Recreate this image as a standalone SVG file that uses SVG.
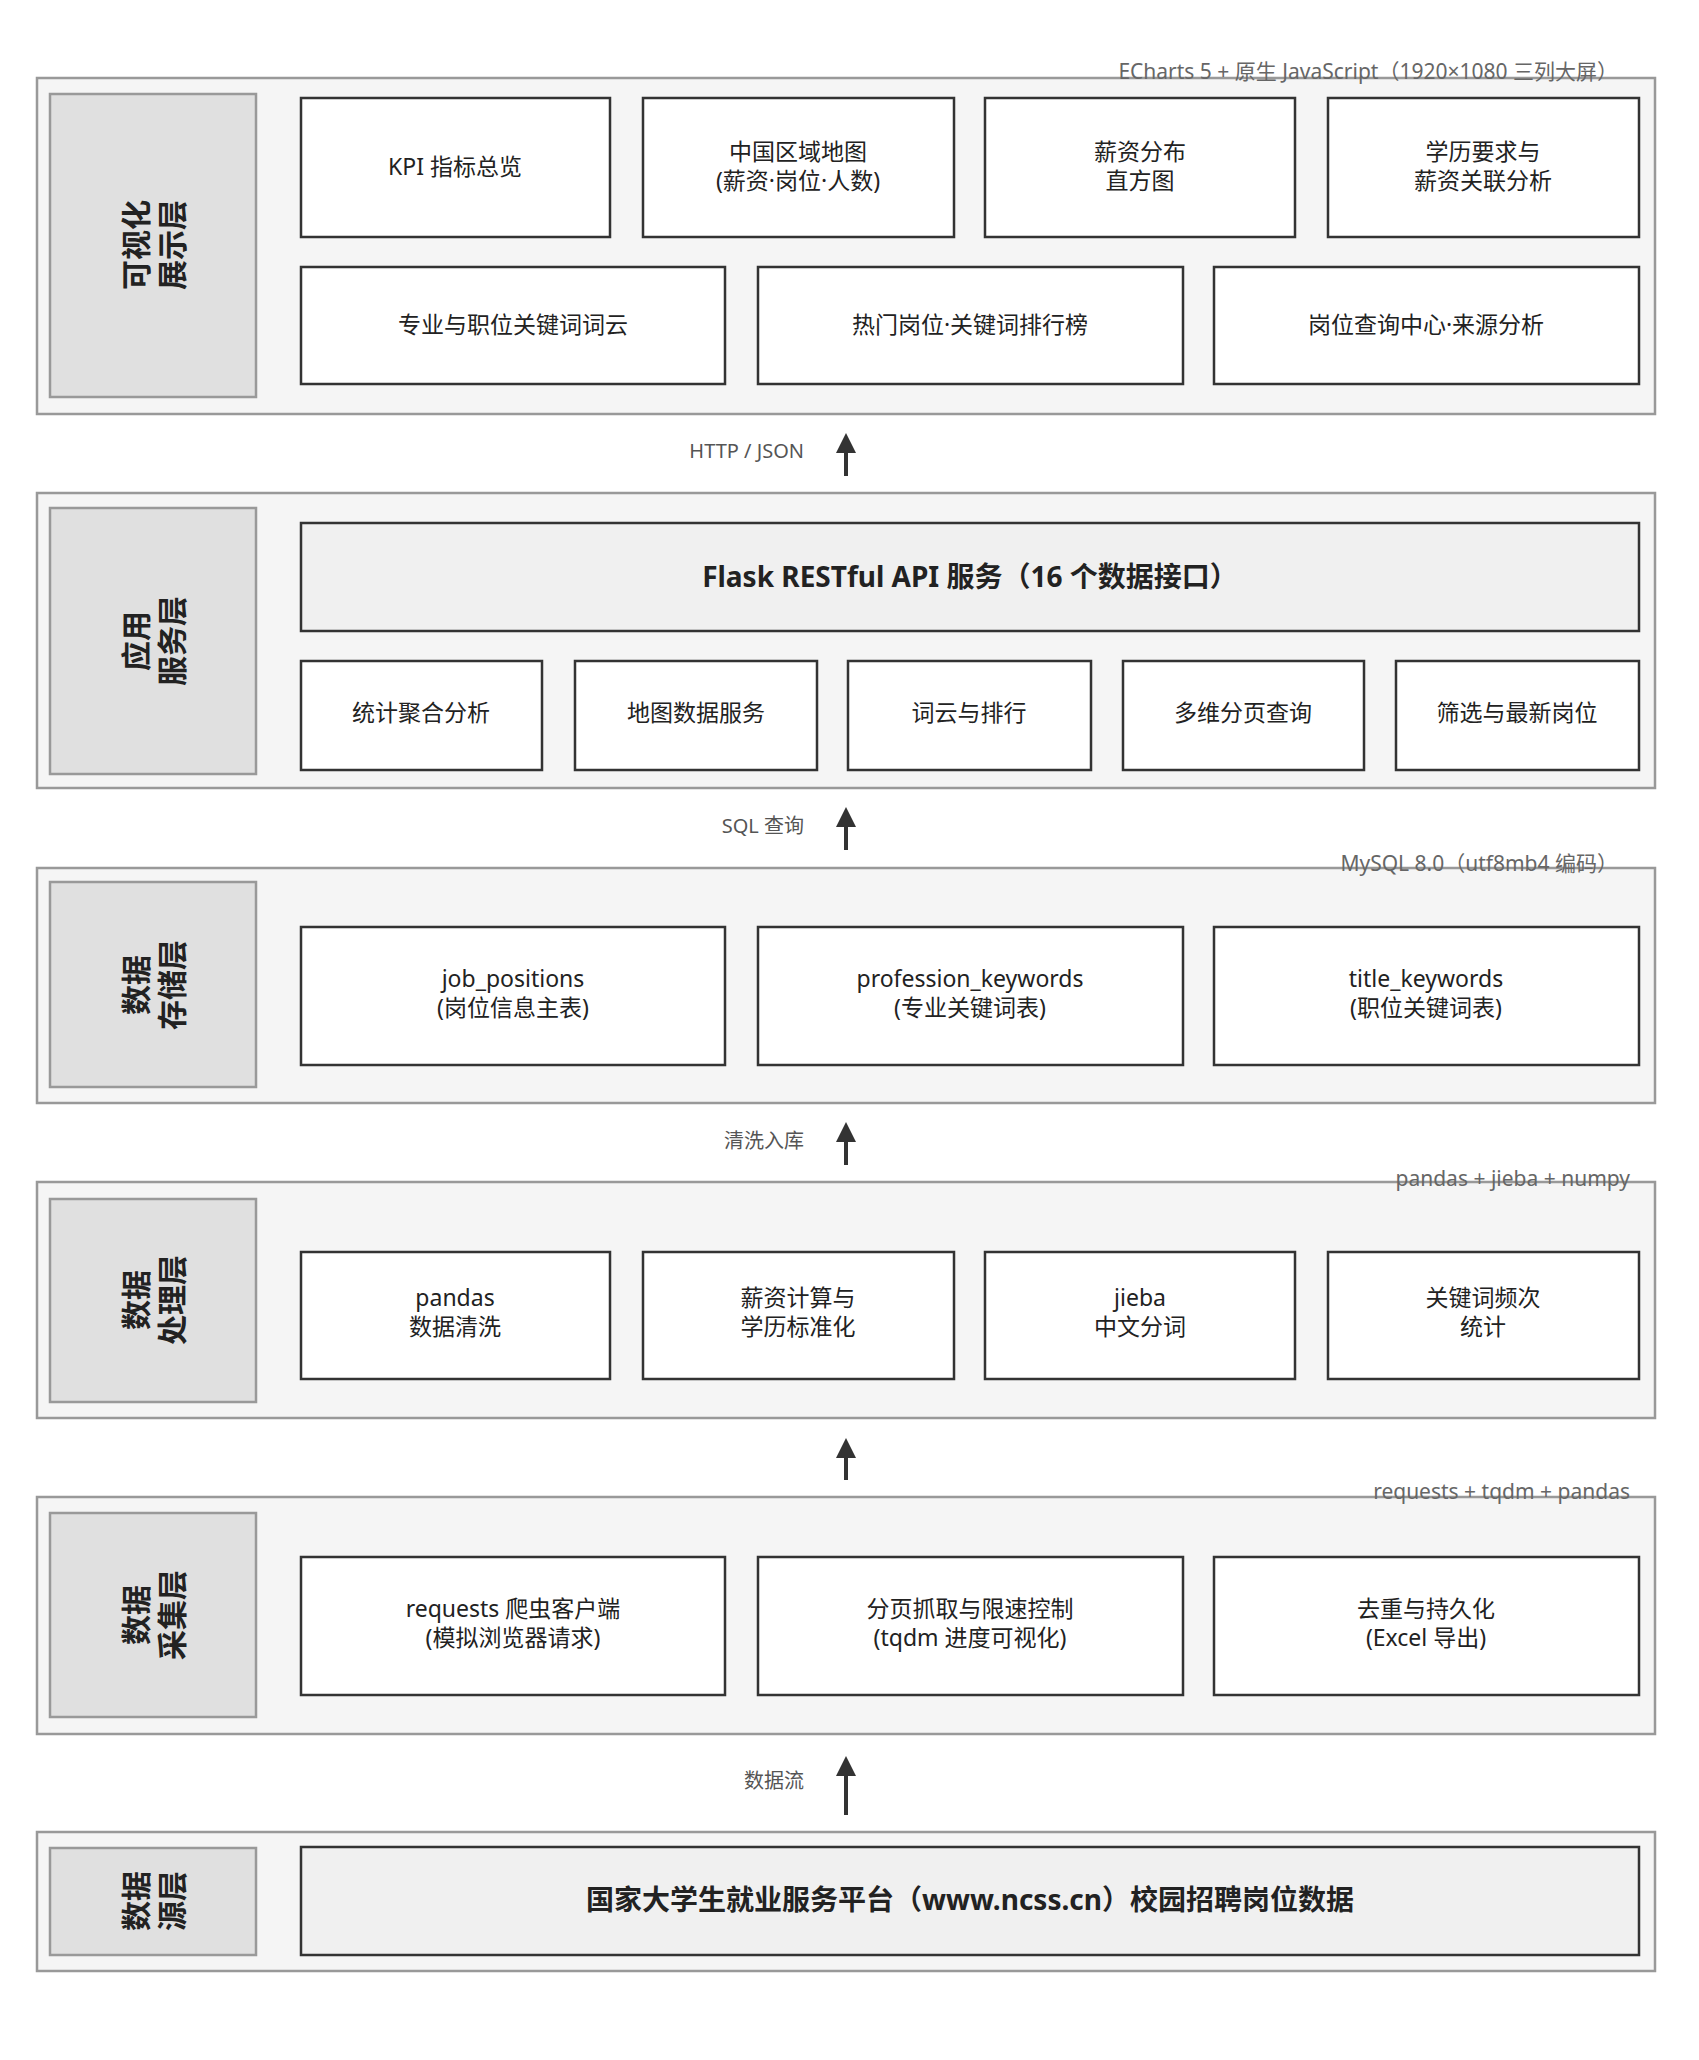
<svg xmlns="http://www.w3.org/2000/svg" width="1699" height="2060" viewBox="0 0 1699 2060">
<style>
text{font-family:"Noto Sans","Noto Sans CJK SC",sans-serif;fill:#222;}
.layer{fill:#f5f5f5;stroke:#999;stroke-width:2.5;}
.lab{fill:#e0e0e0;stroke:#999;stroke-width:2.5;}
.node{fill:#fff;stroke:#333;stroke-width:2.5;}
.main{fill:#f0f0f0;stroke:#333;stroke-width:2.5;}
.t{font-size:23px;text-anchor:middle;}
.b{font-size:28px;font-weight:bold;text-anchor:middle;}
.v{font-size:30px;font-weight:bold;text-anchor:middle;}
.ann{font-size:21px;fill:#666;text-anchor:end;}
.al{font-size:20px;fill:#555;text-anchor:end;}
.arr{stroke:#333;stroke-width:4;fill:none;marker-end:url(#ah);}
</style>
<defs><marker id="ah" viewBox="0 0 10 10" refX="8" refY="5" markerWidth="5" markerHeight="5" orient="auto" markerUnits="strokeWidth"><path d="M0,0L10,5L0,10z" fill="#333"/></marker></defs>
<rect width="1699" height="2060" fill="#fff"/>

<g id="layer-vis">
<rect class="layer" x="37" y="78" width="1618" height="336"/>
<rect class="lab" x="50" y="94" width="206" height="303"/>
<text class="v" transform="translate(153,245) rotate(-90)"><tspan x="0" y="-6">可视化</tspan><tspan x="0" y="30">展示层</tspan></text>
<text class="ann" x="1618" y="79">ECharts 5 + 原生 JavaScript（1920×1080 三列大屏）</text>
</g>
<g id="n-kpi"><rect class="node" x="301" y="98" width="309" height="139"/><text class="t" x="455" y="175">KPI 指标总览</text></g>
<g id="n-map"><rect class="node" x="643" y="98" width="311" height="139"/><text class="t" x="798" y="160">中国区域地图</text><text class="t" x="798" y="189">(薪资·岗位·人数)</text></g>
<g id="n-hist"><rect class="node" x="985" y="98" width="310" height="139"/><text class="t" x="1140" y="160">薪资分布</text><text class="t" x="1140" y="189">直方图</text></g>
<g id="n-edu"><rect class="node" x="1328" y="98" width="311" height="139"/><text class="t" x="1483" y="160">学历要求与</text><text class="t" x="1483" y="189">薪资关联分析</text></g>
<g id="n-cloud"><rect class="node" x="301" y="267" width="424" height="117"/><text class="t" x="513" y="333">专业与职位关键词词云</text></g>
<g id="n-rank"><rect class="node" x="758" y="267" width="425" height="117"/><text class="t" x="970" y="333">热门岗位·关键词排行榜</text></g>
<g id="n-query"><rect class="node" x="1214" y="267" width="425" height="117"/><text class="t" x="1426" y="333">岗位查询中心·来源分析</text></g>

<g id="layer-app">
<rect class="layer" x="37" y="493" width="1618" height="295"/>
<rect class="lab" x="50" y="508" width="206" height="266"/>
<text class="v" transform="translate(153,641) rotate(-90)"><tspan x="0" y="-6">应用</tspan><tspan x="0" y="30">服务层</tspan></text>
</g>
<g id="n-flask"><rect class="main" x="301" y="523" width="1338" height="108"/><text class="b" x="970" y="587">Flask RESTful API 服务（16 个数据接口）</text></g>
<g id="n-stat"><rect class="node" x="301" y="661" width="241" height="109"/><text class="t" x="421" y="721">统计聚合分析</text></g>
<g id="n-mapsvc"><rect class="node" x="575" y="661" width="242" height="109"/><text class="t" x="696" y="721">地图数据服务</text></g>
<g id="n-wc"><rect class="node" x="848" y="661" width="243" height="109"/><text class="t" x="969" y="721">词云与排行</text></g>
<g id="n-page"><rect class="node" x="1123" y="661" width="241" height="109"/><text class="t" x="1243" y="721">多维分页查询</text></g>
<g id="n-filter"><rect class="node" x="1396" y="661" width="243" height="109"/><text class="t" x="1517" y="721">筛选与最新岗位</text></g>

<g id="layer-store">
<rect class="layer" x="37" y="868" width="1618" height="235"/>
<rect class="lab" x="50" y="882" width="206" height="205"/>
<text class="v" transform="translate(153,985) rotate(-90)"><tspan x="0" y="-6">数据</tspan><tspan x="0" y="30">存储层</tspan></text>
<text class="ann" x="1618" y="871">MySQL 8.0（utf8mb4 编码）</text>
</g>
<g id="n-jp"><rect class="node" x="301" y="927" width="424" height="138"/><text class="t" x="513" y="987">job_positions</text><text class="t" x="513" y="1016">(岗位信息主表)</text></g>
<g id="n-pk"><rect class="node" x="758" y="927" width="425" height="138"/><text class="t" x="970" y="987">profession_keywords</text><text class="t" x="970" y="1016">(专业关键词表)</text></g>
<g id="n-tk"><rect class="node" x="1214" y="927" width="425" height="138"/><text class="t" x="1426" y="987">title_keywords</text><text class="t" x="1426" y="1016">(职位关键词表)</text></g>

<g id="layer-proc">
<rect class="layer" x="37" y="1182" width="1618" height="236"/>
<rect class="lab" x="50" y="1199" width="206" height="203"/>
<text class="v" transform="translate(153,1300) rotate(-90)"><tspan x="0" y="-6">数据</tspan><tspan x="0" y="30">处理层</tspan></text>
<text class="ann" x="1630" y="1186">pandas + jieba + numpy</text>
</g>
<g id="n-pd"><rect class="node" x="301" y="1252" width="309" height="127"/><text class="t" x="455" y="1306">pandas</text><text class="t" x="455" y="1335">数据清洗</text></g>
<g id="n-sal"><rect class="node" x="643" y="1252" width="311" height="127"/><text class="t" x="798" y="1306">薪资计算与</text><text class="t" x="798" y="1335">学历标准化</text></g>
<g id="n-jb"><rect class="node" x="985" y="1252" width="310" height="127"/><text class="t" x="1140" y="1306">jieba</text><text class="t" x="1140" y="1335">中文分词</text></g>
<g id="n-freq"><rect class="node" x="1328" y="1252" width="311" height="127"/><text class="t" x="1483" y="1306">关键词频次</text><text class="t" x="1483" y="1335">统计</text></g>

<g id="layer-crawl">
<rect class="layer" x="37" y="1497" width="1618" height="237"/>
<rect class="lab" x="50" y="1513" width="206" height="204"/>
<text class="v" transform="translate(153,1615) rotate(-90)"><tspan x="0" y="-6">数据</tspan><tspan x="0" y="30">采集层</tspan></text>
<text class="ann" x="1630" y="1499">requests + tqdm + pandas</text>
</g>
<g id="n-req"><rect class="node" x="301" y="1557" width="424" height="138"/><text class="t" x="513" y="1617">requests 爬虫客户端</text><text class="t" x="513" y="1646">(模拟浏览器请求)</text></g>
<g id="n-pg"><rect class="node" x="758" y="1557" width="425" height="138"/><text class="t" x="970" y="1617">分页抓取与限速控制</text><text class="t" x="970" y="1646">(tqdm 进度可视化)</text></g>
<g id="n-dd"><rect class="node" x="1214" y="1557" width="425" height="138"/><text class="t" x="1426" y="1617">去重与持久化</text><text class="t" x="1426" y="1646">(Excel 导出)</text></g>

<g id="layer-src">
<rect class="layer" x="37" y="1832" width="1618" height="139"/>
<rect class="lab" x="50" y="1848" width="206" height="107"/>
<text class="v" transform="translate(153,1901) rotate(-90)"><tspan x="0" y="-6">数据</tspan><tspan x="0" y="30">源层</tspan></text>
</g>
<g id="n-src"><rect class="main" x="301" y="1847" width="1338" height="108"/><text class="b" x="970" y="1910">国家大学生就业服务平台（www.ncss.cn）校园招聘岗位数据</text></g>

<g id="connectors">
<line class="arr" x1="846" y1="1815" x2="846" y2="1760"/>
<line class="arr" x1="846" y1="1480" x2="846" y2="1442"/>
<line class="arr" x1="846" y1="1165" x2="846" y2="1126"/>
<line class="arr" x1="846" y1="850" x2="846" y2="811"/>
<line class="arr" x1="846" y1="476" x2="846" y2="437"/>
<text class="al" x="804" y="1788">数据流</text>
<text class="al" x="804" y="1148">清洗入库</text>
<text class="al" x="804" y="833">SQL 查询</text>
<text class="al" x="804" y="458">HTTP / JSON</text>
</g>
</svg>
